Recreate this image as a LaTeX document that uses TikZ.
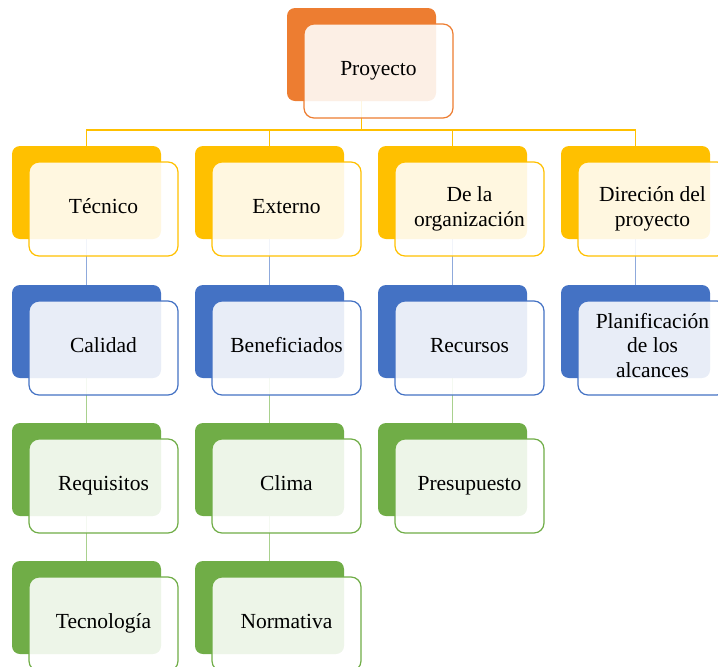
\documentclass[tikz,border=0pt]{standalone}
\usepackage{fontspec}
\setmainfont{Liberation Serif}
\usetikzlibrary{backgrounds}
\definecolor{cOr}{HTML}{ED7D31}
\definecolor{cYe}{HTML}{FFC000}
\definecolor{cBl}{HTML}{4472C4}
\definecolor{cGr}{HTML}{70AD47}
\definecolor{lYe}{HTML}{FFC000}
\definecolor{lBl}{HTML}{8FAADC}
\definecolor{lGr}{HTML}{A9D18E}
\tikzset{
  backbox/.style={fill=#1, draw=none, rounded corners=8pt, minimum width=149pt, minimum height=93pt, inner sep=0pt},
  frontbox/.style={fill=white, fill opacity=0.88, text opacity=1, draw=#1, line width=1.2pt, rounded corners=10pt,
     minimum width=149pt, minimum height=94pt, inner sep=0pt, align=center, font=\fontsize{21.5}{24.5}\selectfont},
  con/.style={draw=#1, line width=1.2pt}
}
\newcommand\pbox[5]{% name, x, y, colour, text
  \node[backbox=#4] (#1b) at (#2+74.5,#3+46.5) {};
  \node[frontbox=#4] (#1) at (#2+91.5,#3+63) {\strut #5\strut};
}
\begin{document}
\begin{tikzpicture}[x=1pt,y=-1pt]
\useasboundingbox (0,0) rectangle (718,667);
\pbox{proj}{287}{8}{cOr}{Proyecto}
\pbox{tec}{12}{146}{cYe}{Técnico}
\pbox{ext}{195}{146}{cYe}{Externo}
\pbox{org}{378}{146}{cYe}{De la\\organización}
\pbox{dir}{561}{146}{cYe}{Direción del\\proyecto}
\pbox{cal}{12}{285}{cBl}{Calidad}
\pbox{ben}{195}{285}{cBl}{Beneficiados}
\pbox{rec}{378}{285}{cBl}{Recursos}
\pbox{pla}{561}{285}{cBl}{Planificación\\de los\\alcances}
\pbox{req}{12}{423}{cGr}{Requisitos}
\pbox{cli}{195}{423}{cGr}{Clima}
\pbox{pre}{378}{423}{cGr}{Presupuesto}
\pbox{tcn}{12}{561}{cGr}{Tecnología}
\pbox{nor}{195}{561}{cGr}{Normativa}
\coordinate (bar) at (0,130);
\begin{pgfonlayer}{background}
\foreach \c in {tec,ext,org,dir}{
  \draw[con=lYe] (projb.south) -- (projb.south |- bar) -| (\c b.north);
}
\draw[con=lBl] (tecb.south) -- (calb.north);
\draw[con=lBl] (extb.south) -- (benb.north);
\draw[con=lBl] (orgb.south) -- (recb.north);
\draw[con=lBl] (dirb.south) -- (plab.north);
\draw[con=lGr] (calb.south) -- (reqb.north);
\draw[con=lGr] (benb.south) -- (clib.north);
\draw[con=lGr] (recb.south) -- (preb.north);
\draw[con=lGr] (reqb.south) -- (tcnb.north);
\draw[con=lGr] (clib.south) -- (norb.north);
\end{pgfonlayer}
\end{tikzpicture}
\end{document}
